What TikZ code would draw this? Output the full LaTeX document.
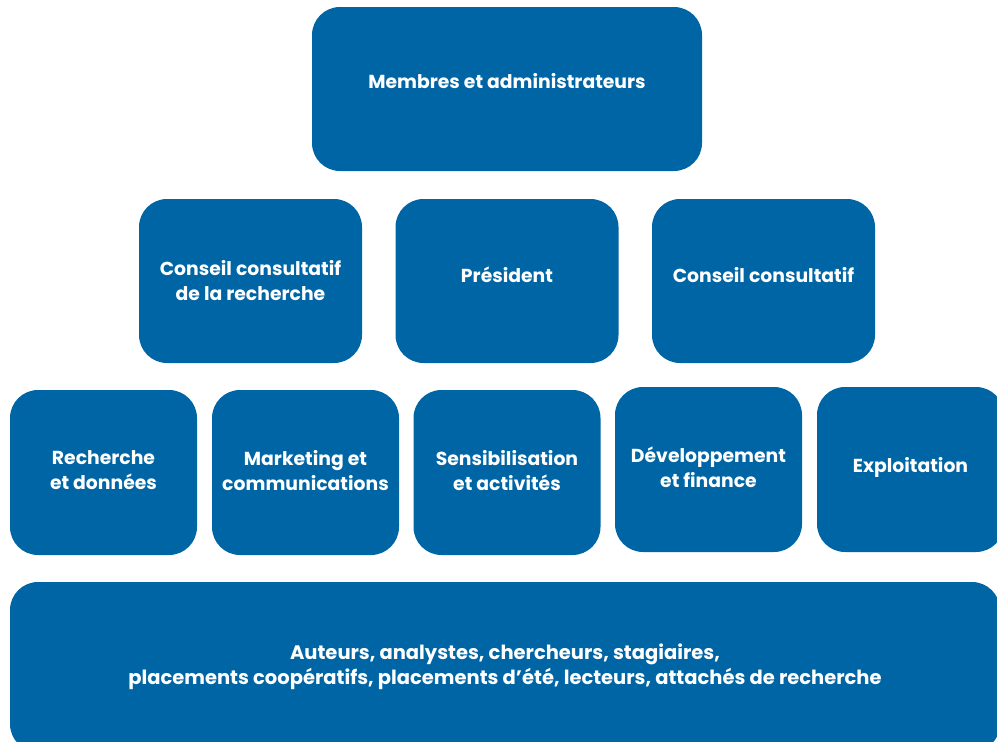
\documentclass[tikz,border=0pt]{standalone}
\usepackage{fontspec}
\setmainfont{Poppins}
\definecolor{orgblue}{RGB}{0,101,164}

\begin{document}
\begin{tikzpicture}[x=1pt,y=-1pt]
  \tikzstyle{box}  =[rectangle, rounded corners=28pt, fill=orgblue, text=white, align=center, inner sep=0pt, font=\bfseries\fontsize{18.8}{25}\selectfont]
  \tikzstyle{top}  =[box, minimum width=390pt, minimum height=164pt, text depth=16pt]
  \tikzstyle{mid}  =[box, minimum width=223pt, minimum height=164pt]
  \tikzstyle{unit} =[box, minimum width=187pt, minimum height=165pt, text depth=5pt]
  \tikzstyle{staff}=[box, minimum width=990pt, minimum height=170pt, font=\bfseries\fontsize{19.5}{25}\selectfont]
  \clip (0,0) rectangle (997,742);
  \node[top](b0) at (507,89) {Membres et administrateurs};
  \node[mid](c1) at (250.5,281) {Conseil consultatif\\de la recherche};
  \node[mid, text depth=12pt](c2) at (507  ,281) {Président};
  \node[mid, text depth=12pt](c3) at (763.5,281) {Conseil consultatif};
  \node[unit](d1) at (103.5,472.5) {Recherche\\et données};
  \node[unit](d2) at (305.5,472.5) {Marketing et\\communications};
  \node[unit](d3) at (507  ,472.5) {Sensibilisation\\et activités};
  \node[unit](d4) at (708.5,469.5) {Développement\\et finance};
  \node[unit, text depth=9pt](d5) at (910.5,469.5) {Exploitation};
  \node[staff](e0) at (505,667) {Auteurs, analystes, chercheurs, stagiaires,\\placements coopératifs, placements d’été, lecteurs, attachés de recherche};
\end{tikzpicture}
\end{document}
